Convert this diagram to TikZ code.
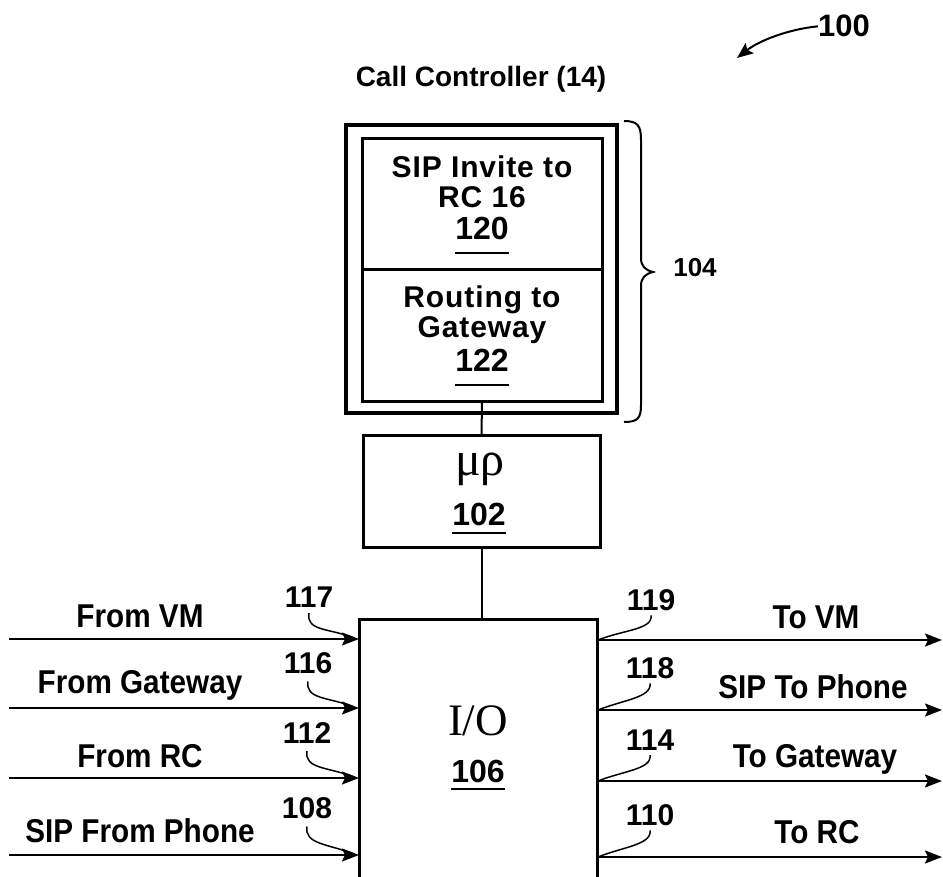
\documentclass[tikz,border=0pt]{standalone}
\usepackage{fontspec}
\setmainfont{Liberation Sans}
\newfontfamily\seriffam{Liberation Serif}
\newfontfamily\lblfont{Liberation Sans Bold}[FakeStretch=0.9]
\newfontfamily\boxfont{Liberation Sans Bold}[LetterSpace=3]
\usetikzlibrary{arrows.meta}
\begin{document}
\begin{tikzpicture}[x=1pt,y=-1pt,
  box/.style={draw, line width=3pt, inner sep=0pt, outer sep=0pt},
  conn/.style={line width=2pt},
  ioarrow/.style={line width=2pt, -{Stealth[length=17pt,width=13pt,inset=3pt]}},
  lead/.style={line width=1.5pt},
  lbl/.style={font=\lblfont\fontsize{33}{35}\selectfont, anchor=base, inner sep=0pt},
  boxlbl/.style={font=\boxfont\fontsize{30}{32}\selectfont, anchor=base, inner sep=0pt},
  ttl/.style={font=\bfseries\fontsize{28}{30}\selectfont, anchor=base, inner sep=0pt},
  num/.style={font=\bfseries\fontsize{30}{32}\selectfont, anchor=base, inner sep=0pt},
  ulnum/.style={font=\bfseries\fontsize{32}{34}\selectfont, anchor=base, inner sep=0pt},
  sertext/.style={font=\seriffam\fontsize{45}{48}\selectfont, anchor=base, inner sep=0pt},
  ul/.style={line width=2pt}]
\clip (0,0) rectangle (943,877);
\fill[white] (0,0) rectangle (943,877);

% title and 100
\node[ttl] (title) at (481,87) {Call Controller (14)};
\node[num, font=\bfseries\fontsize{31}{33}\selectfont] (n100) at (844,37) {100};
\coordinate (p100) at (737,58);
\draw[line width=2pt, -{Stealth[length=16pt,width=13pt,inset=3pt]}] (n100.west) .. controls (790,29) and (760,40) .. (p100);

% call controller boxes
\node[box, line width=3.5pt, minimum width=271pt, minimum height=288pt] (cc) at (481.5,269) {};
\node[box, minimum width=240pt, minimum height=131pt] (sip) at (482,204.5) {};
\node[box, minimum width=240pt, minimum height=132pt] (rt) at (482,336) {};
\node[boxlbl] (t1) at (482,178) {SIP Invite to};
\node[boxlbl] (t2) at (482,208) {RC 16};
\node[ulnum] (n120) at (482,240) {120};
\draw[ul] ([yshift=-13pt]n120.base west) -- ([yshift=-13pt]n120.base east);
\node[boxlbl] (t3) at (482,308) {Routing to};
\node[boxlbl] (t4) at (482,338) {Gateway};
\node[ulnum] (n122) at (482,372) {122};
\draw[ul] ([yshift=-13pt]n122.base west) -- ([yshift=-13pt]n122.base east);

% brace 104
\draw[line width=2pt] (624,121) .. controls (638,121) and (641,126) .. (641,140) -- (641,258)
  .. controls (641,266) and (645,270) .. (653,272) .. controls (645,274) and (641,278) .. (641,286)
  -- (641,405) .. controls (641,418) and (638,422) .. (624,422);
\node[num, font=\bfseries\fontsize{26}{28}\selectfont] (n104) at (695,277) {104};

% microprocessor
\node[box, minimum width=237pt, minimum height=112pt] (mp) at (481.5,491) {};
\node[sertext, font=\seriffam\fontsize{48}{50}\selectfont] (mu) at (480,475) {μρ};
\node[ulnum] (n102) at (479,525) {102};
\draw[ul] ([yshift=-8pt]n102.base west) -- ([yshift=-8pt]n102.base east);
\draw[conn] (rt.south) -- (mp.north);

% I/O
\node[box, minimum width=238pt, minimum height=280pt] (io) at (478,759) {};
\node[sertext] (iot) at (478,735) {I/O};
\node[ulnum] (n106) at (478,782) {106};
\draw[ul] ([yshift=-7pt]n106.base west) -- ([yshift=-7pt]n106.base east);
\draw[conn] (mp.south) -- (mp.south |- io.north);

% inputs
\coordinate (a1) at (9,639);
\coordinate (a2) at (9,708);
\coordinate (a3) at (9,778);
\coordinate (a4) at (9,855);
\draw[ioarrow] (a1) -- (a1 -| io.west);
\draw[ioarrow] (a2) -- (a2 -| io.west);
\draw[ioarrow] (a3) -- (a3 -| io.west);
\draw[ioarrow] (a4) -- (a4 -| io.west);
\node[lbl] (fvm) at (140,627) {From VM};
\node[lbl] (fgw) at (140,693) {From Gateway};
\node[lbl] (frc) at (140,767) {From RC};
\node[lbl] (fph) at (140,842) {SIP From Phone};
\node[num] (n117) at (309,607) {117};
\node[num] (n116) at (308,673) {116};
\node[num] (n112) at (307,743) {112};
\node[num] (n108) at (307,818) {108};
\draw[lead] ([yshift=-6pt]n117.south) .. controls +(-3,18) and +(-25,-10) .. ([xshift=-5pt,yshift=1pt]a1 -| io.west);
\draw[lead] ([yshift=-8pt]n116.south) .. controls +(-3,18) and +(-25,-10) .. ([xshift=-5pt,yshift=1pt]a2 -| io.west);
\draw[lead] ([yshift=-8pt]n112.south) .. controls +(-3,18) and +(-25,-10) .. ([xshift=-5pt,yshift=1pt]a3 -| io.west);
\draw[lead] ([yshift=-8pt]n108.south) .. controls +(-3,18) and +(-25,-10) .. ([xshift=-5pt,yshift=1pt]a4 -| io.west);

% outputs
\coordinate (b1) at (942,640);
\coordinate (b2) at (942,710);
\coordinate (b3) at (942,781);
\coordinate (b4) at (942,857);
\draw[ioarrow] (b1 -| io.east) -- (b1);
\draw[ioarrow] (b2 -| io.east) -- (b2);
\draw[ioarrow] (b3 -| io.east) -- (b3);
\draw[ioarrow] (b4 -| io.east) -- (b4);
\node[lbl] (tvm) at (816,628) {To VM};
\node[lbl] (tph) at (813,698) {SIP To Phone};
\node[lbl] (tgw) at (815,767) {To Gateway};
\node[lbl] (trc) at (817,843) {To RC};
\node[num] (n119) at (651,610) {119};
\node[num] (n118) at (650,678) {118};
\node[num] (n114) at (650,750) {114};
\node[num] (n110) at (650,825) {110};
\draw[lead] ([yshift=-5pt]n119.south) .. controls +(2,14) and +(25,-10) .. ([xshift=1pt]b1 -| io.east);
\draw[lead] ([yshift=-5pt]n118.south) .. controls +(2,14) and +(25,-10) .. ([xshift=1pt]b2 -| io.east);
\draw[lead] ([yshift=-5pt]n114.south) .. controls +(2,14) and +(25,-10) .. ([xshift=1pt]b3 -| io.east);
\draw[lead] ([yshift=-5pt]n110.south) .. controls +(2,14) and +(25,-10) .. ([xshift=1pt]b4 -| io.east);
\end{tikzpicture}
\end{document}
